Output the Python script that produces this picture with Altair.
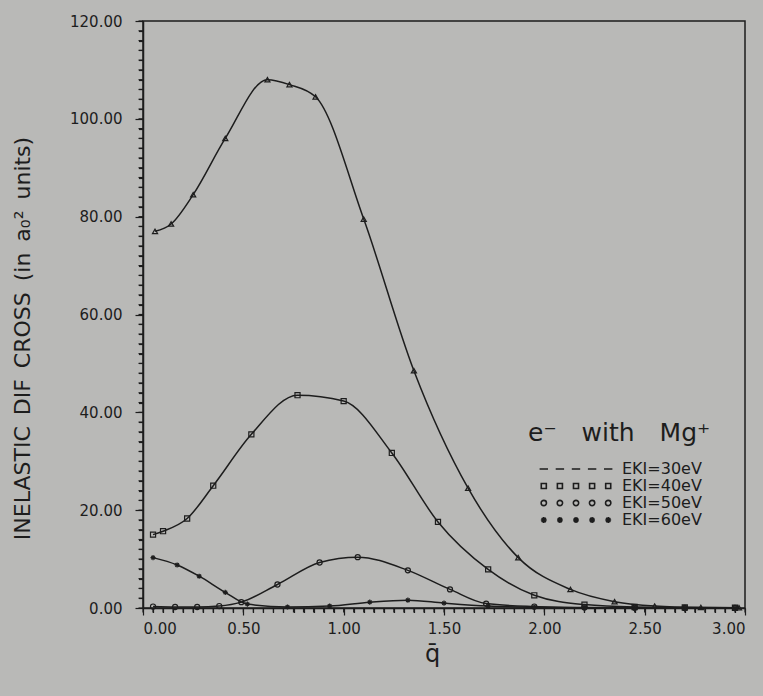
import altair as alt
import pandas as pd

# Inelastic differential cross sections of e- on Mg+ against momentum transfer q̄,
# one pair of arrays per incident energy (EKI).
q_30 = [0.06, 0.14, 0.25, 0.41, 0.62, 0.73, 0.86, 1.10, 1.35, 1.62, 1.87, 2.13, 2.35, 2.55, 2.78, 2.97]
s_30 = [77.0, 78.5, 84.5, 96.0, 108.0, 107.0, 104.5, 79.5, 48.5, 24.5, 10.3, 3.8, 1.3, 0.4, 0.1, 0.05]

q_40 = [0.05, 0.10, 0.22, 0.35, 0.54, 0.77, 1.00, 1.24, 1.47, 1.72, 1.95, 2.20, 2.45, 2.70, 2.95]
s_40 = [15.0, 15.7, 18.3, 25.0, 35.5, 43.5, 42.3, 31.7, 17.6, 7.9, 2.6, 0.7, 0.2, 0.1, 0.05]

q_50 = [0.05, 0.16, 0.27, 0.38, 0.49, 0.67, 0.88, 1.07, 1.32, 1.53, 1.71, 1.95, 2.20, 2.45, 2.70, 2.95]
s_50 = [0.3, 0.2, 0.2, 0.4, 1.2, 4.8, 9.3, 10.4, 7.7, 3.8, 0.9, 0.3, 0.1, 0.05, 0.02, 0.01]

q_60 = [0.05, 0.17, 0.28, 0.41, 0.52, 0.72, 0.93, 1.13, 1.32, 1.50, 1.72, 1.95, 2.20, 2.45, 2.70, 2.95]
s_60 = [10.3, 8.8, 6.5, 3.2, 0.8, 0.2, 0.4, 1.2, 1.6, 1.0, 0.4, 0.15, 0.05, 0.02, 0.01, 0.01]

energies = ["EKI=30eV", "EKI=40eV", "EKI=50eV", "EKI=60eV"]
series = [(q_30, s_30), (q_40, s_40), (q_50, s_50), (q_60, s_60)]

# ticks every 2 (y) and 0.05 (x); the ones every 20 and 0.5 are long and labelled
y_ticks = list(range(0, 121, 2))
x_ticks = [round(i * 0.05, 2) for i in range(61)]

rows = []
for name, (qs, ss) in zip(energies, series):
    for q, s in zip(qs, ss):
        rows.append({"energy": name, "q": q, "sigma": s})
df = pd.DataFrame(rows)

WIDTH, HEIGHT = 602, 587
INK = "#1d1d1d"
PAPER = "#b9b9b7"
FONT = "DejaVu Sans"

# plot markers, one per energy
star = "M-1,0H1M0,-1V1M-0.7,-0.7L0.7,0.7M-0.7,0.7L0.7,-0.7"
marker_shapes = ["triangle-up", "square", "circle", star]

# legend keys: a row of five markers of each kind (path units of 7 px)
centers = [-4.6, -2.3, 0.0, 2.3, 4.6]


def key_row(unit):
    return " ".join(unit(c) for c in centers)


def dash(c):
    return f"M{c - 0.6:.3f},0H{c + 0.6:.3f}"


def box(c):
    h = 0.36
    return f"M{c - h:.3f},-{h}H{c + h:.3f}V{h}H{c - h:.3f}Z"


def ring(c):
    r = 0.38
    return (f"M{c + r:.3f},0A{r},{r} 0 1,1 {c - r:.3f},0"
            f"A{r},{r} 0 1,1 {c + r:.3f},0Z")


def aster(c):
    a, b = 0.42, 0.3
    return (f"M{c - a:.3f},0H{c + a:.3f}M{c:.3f},-{a}V{a}"
            f"M{c - b:.3f},-{b}L{c + b:.3f},{b}M{c - b:.3f},{b}L{c + b:.3f},-{b}")


key_shapes = [key_row(dash), key_row(box), key_row(ring), key_row(aster)]

x_scale = alt.Scale(domain=[0, 3], nice=False, zero=False)
y_scale = alt.Scale(domain=[0, 120], nice=False)

axis_common = dict(
    grid=False, domainColor=INK, domainWidth=1.5, tickColor=INK, tickWidth=1.2,
    labelColor=INK, labelFont=FONT, labelFontSize=15, labelOverlap=False,
    titleColor=INK, titleFont=FONT, titleFontWeight="normal",
)

x_major_test = "abs(datum.value * 2 - round(datum.value * 2)) < 1e-6"
y_major_test = "datum.value % 20 === 0"

x_axis = alt.Axis(
    values=x_ticks, tickCount=len(x_ticks),
    labelExpr=f"{x_major_test} ? format(datum.value, '.2f') : ''",
    tickSize={"condition": {"test": x_major_test, "value": 7}, "value": 4.5},
    labelPadding=6,
    title="q̄", titleFontSize=24, titleX=289, titleY=46, titleBaseline="middle",
    orient="bottom", **axis_common,
)
y_axis = alt.Axis(
    values=y_ticks, tickCount=len(y_ticks),
    labelExpr=f"{y_major_test} ? format(datum.value, '.2f') : ''",
    tickSize={"condition": {"test": y_major_test, "value": 8}, "value": 4.5},
    labelPadding=13,
    title="INELASTIC\u2002DIF\u2002CROSS\u2002(in\u2002a₀²\u2002units)", titleFontSize=22,
    titleX=-121, titleY=317, titleBaseline="middle", orient="left",
    **axis_common,
)

base = alt.Chart(df)

curves = base.mark_line(color=INK, strokeWidth=1.5, interpolate="monotone").encode(
    x=alt.X("q:Q", scale=x_scale, axis=x_axis),
    y=alt.Y("sigma:Q", scale=y_scale, axis=y_axis),
    detail="energy:N",
)

markers = base.mark_point(color=INK, filled=False, size=26, strokeWidth=1.2, opacity=1).encode(
    x="q:Q",
    y="sigma:Q",
    shape=alt.Shape("energy:N", scale=alt.Scale(domain=energies, range=marker_shapes), legend=None),
)

key = base.mark_point(color=INK, filled=False, opacity=0).encode(
    x="q:Q",
    y="sigma:Q",
    shape=alt.Shape(
        "energy:N",
        scale=alt.Scale(domain=energies, range=key_shapes),
        legend=alt.Legend(
            title="e⁻\u2003with\u2003Mg⁺", orient="none", legendX=385, legendY=400,
            titleFont=FONT, titleFontSize=25, titleFontWeight="normal", titleColor=INK,
            titlePadding=15, titleLimit=400, labelFont=FONT, labelFontSize=16,
            labelColor=INK, labelOffset=38, labelLimit=300, symbolSize=196,
            symbolStrokeWidth=1.6, symbolStrokeColor=INK, symbolOpacity=1,
            symbolOffset=40, rowPadding=1, padding=0,
        ),
    ),
)

# short ticks hanging off the left and bottom axes, placed through the shared scales
y_comb = alt.Chart(pd.DataFrame({"sigma": y_ticks})).mark_rule(
    color=INK, strokeWidth=1.2, clip=False
).encode(
    y=alt.Y("sigma:Q"),
    x=alt.value(-4.5),
    x2=alt.value(0),
)
x_comb = alt.Chart(pd.DataFrame({"q": x_ticks})).mark_rule(
    color=INK, strokeWidth=1.2, clip=False
).encode(
    x=alt.X("q:Q"),
    y=alt.value(HEIGHT),
    y2=alt.value(HEIGHT + 4.5),
)

chart = (
    alt.layer(curves, markers, key, y_comb, x_comb)
    .resolve_scale(shape="independent")
    .properties(
        width=WIDTH, height=HEIGHT, background=PAPER,
        autosize=alt.AutoSizeParams(type="none"),
        padding={"left": 143, "top": 21, "right": 18, "bottom": 88},
    )
    .configure_view(stroke=INK, strokeWidth=1.5)
)

chart.save("out.html", embed_options={"renderer": "svg", "actions": False})
